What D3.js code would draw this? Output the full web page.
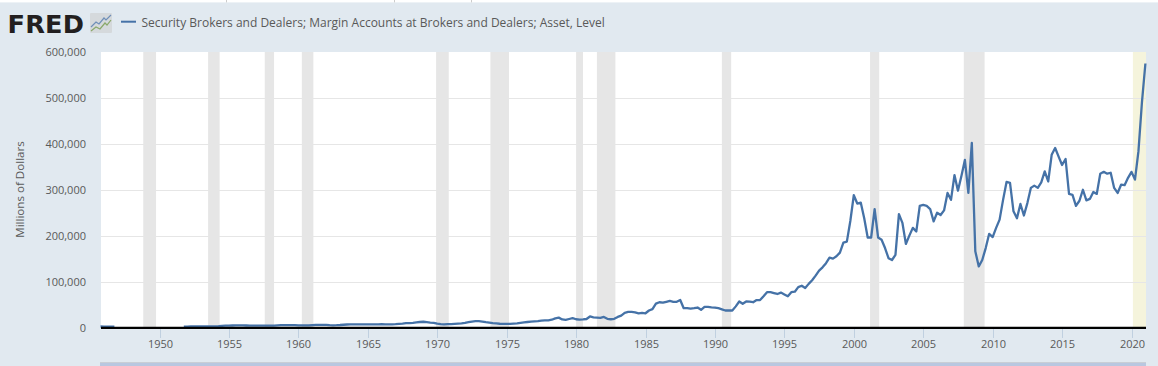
<!DOCTYPE html>
<html>
<head>
<meta charset="utf-8">
<script src="https://cdn.jsdelivr.net/npm/d3@7"></script>
<style>
  html, body { margin: 0; padding: 0; background: #e1e9f0; }
  svg { display: block; }
  text { font-family: "Open Sans", sans-serif; fill: #595959; }
</style>
</head>
<body>
<svg id="chart" width="1158" height="366"></svg>
<script>
// Quarterly values in millions of dollars, first quarter is 1945 Q4
const firstQuarter = 1945.75;
const marginAccounts = [
  2200,
  2100, 2000, 1900, 1800, // 1946
  null, null, null, null, // 1947
  null, null, null, null, // 1948
  null, null, null, null, // 1949
  null, null, null, null, // 1950
  null, null, null, 2000, // 1951
  2100, 2200, 2200, 2300,
  2300, 2300, 2200, 2300,
  2600, 2900, 3400, 3900,
  4200, 4400, 4500, 4600, // 1955
  4500, 4400, 4200, 4200,
  4100, 4200, 4000, 3900,
  4000, 4300, 4600, 5000,
  5200, 5200, 5100, 5000,
  4700, 4600, 4500, 4600, // 1960
  5000, 5500, 5600, 5900,
  5600, 5000, 4800, 5000,
  5400, 6000, 6500, 7000,
  7000, 6900, 6700, 6800,
  6800, 6700, 6700, 7000, // 1965
  7200, 7000, 6800, 6900,
  7200, 7800, 8500, 9500,
  9500, 10000, 11000, 12000,
  12500, 11500, 10500, 10000,
  8500, 7500, 7000, 7200, // 1970
  7500, 8000, 8500, 9000,
  10000, 11500, 13000, 13800,
  13800, 13000, 11500, 10500,
  9500, 8800, 8200, 8000,
  8000, 8000, 8500, 9000, // 1975
  10000, 11000, 12000, 13000,
  13500, 14000, 15000, 15500,
  15500, 17000, 20000, 21500,
  17500, 16500, 18500, 20500,
  18000, 17000, 17500, 18500, // 1980
  24000, 22000, 21500, 21000,
  23000, 19000, 18000, 19000,
  23000, 26000, 32000, 34000,
  34000, 33000, 31000, 32000,
  31000, 37000, 40000, 52000, // 1985
  55000, 54000, 56000, 58000,
  56000, 56000, 60000, 42000,
  42000, 41000, 42000, 43500,
  38600, 45000, 45000, 44000,
  43500, 42000, 39500, 37000, // 1990
  37000, 37000, 46000, 56700,
  51600, 56700, 56500, 55000,
  59700, 59700, 68000, 77000,
  77000, 75000, 73000, 76000,
  72000, 68000, 77000, 78000, // 1995
  88000, 91000, 86000, 95000,
  103000, 113000, 124000, 131000,
  140000, 152000, 150000, 155000,
  163000, 185000, 187000, 232000,
  288000, 270000, 272000, 238000, // 2000
  196000, 196000, 258000, 196000,
  191000, 173000, 151000, 147000,
  158000, 247000, 228000, 182000,
  200000, 217000, 209000, 265000,
  267000, 265000, 258000, 231000, // 2005
  250000, 245000, 255000, 293000,
  278000, 332000, 298000, 330000,
  365000, 293000, 402000, 166000,
  133000, 147000, 173000, 204000,
  197000, 217000, 235000, 278000, // 2010
  317000, 315000, 253000, 238000,
  269000, 244000, 271000, 304000,
  309000, 304000, 316000, 340000,
  318000, 376000, 391000, 372000,
  354000, 367000, 291000, 289000, // 2015
  265000, 276000, 300000, 277000,
  280000, 295000, 291000, 335000,
  339000, 335000, 337000, 304000,
  293000, 311000, 310000, 326000,
  339000, 322000, 384000, 490000, // 2020
  575000
];

const recessions = [
  [1948.83, 1949.75], [1953.5, 1954.33], [1957.58, 1958.25], [1960.25, 1961.08],
  [1969.92, 1970.83], [1973.83, 1975.17], [1980.0, 1980.5], [1981.5, 1982.83],
  [1990.5, 1991.17], [2001.17, 2001.83], [2007.92, 2009.42]
];
const recent = [2020.1, 2021.0];

const yearTicks = d3.range(1950, 2021, 5);
const valueTicks = [0, 100000, 200000, 300000, 400000, 500000, 600000];
const seriesName = "Security Brokers and Dealers; Margin Accounts at Brokers and Dealers; Asset, Level";
const yTitle = "Millions of Dollars";

const svg = d3.select("#chart");
const plot = { left: 101, right: 1146, top: 52, bottom: 327.5 };

const x = d3.scaleLinear().domain([firstQuarter, 2021]).range([100.5, 1145.4]);
const y = d3.scaleLinear().domain([0, 600000]).range([plot.bottom, plot.top]);

// Rounded copies so axis lines land on whole pixels
const xAxisScale = x.copy().interpolate(d3.interpolateRound);
const yAxisScale = y.copy().interpolate(d3.interpolateRound);

// Page chrome
svg.append("rect").attr("width", 1158).attr("height", 2.4).attr("fill", "#fff");
svg.selectAll(".topTick").data([226, 394, 471]).enter().append("rect")
  .attr("x", d => d).attr("width", 1).attr("height", 2.4).attr("fill", "#ccc");
svg.append("rect").attr("x", 100).attr("y", 362).attr("width", 1046).attr("height", 4).attr("fill", "#b9c7e0");
svg.append("rect").attr("x", 100).attr("y", 362).attr("width", 1046).attr("height", 1).attr("fill", "#c9ced6");

// Plot background
svg.append("rect")
  .attr("x", plot.left).attr("y", plot.top)
  .attr("width", plot.right - plot.left).attr("height", plot.bottom - plot.top)
  .attr("fill", "#fff");

svg.selectAll(".recession").data(recessions).enter().append("rect")
  .attr("class", "recession")
  .attr("x", d => x(d[0]))
  .attr("y", plot.top)
  .attr("width", d => x(d[1]) - x(d[0]))
  .attr("height", plot.bottom - plot.top)
  .attr("fill", "#e6e6e6");

svg.append("rect")
  .attr("x", x(recent[0]))
  .attr("y", plot.top)
  .attr("width", plot.right - x(recent[0]))
  .attr("height", plot.bottom - plot.top)
  .attr("fill", "#f5f4dc");

// Y axis with grid lines
const yAxis = svg.append("g")
  .attr("transform", `translate(${plot.left},0)`)
  .call(d3.axisLeft(yAxisScale)
    .tickValues(valueTicks)
    .tickFormat(d3.format(","))
    .tickSize(0)
    .tickPadding(15));
yAxis.select(".domain").remove();
yAxis.selectAll("text").style("font-size", "11px");
yAxis.selectAll(".tick").filter(d => d > 0 && d < 600000).append("line")
  .attr("x1", 0).attr("x2", plot.right - plot.left)
  .attr("stroke", "#e6e6e6");

// X axis
const xAxis = svg.append("g")
  .attr("transform", "translate(0,328)")
  .call(d3.axisBottom(xAxisScale)
    .tickValues(yearTicks)
    .tickFormat(d3.format("d"))
    .tickSize(10)
    .tickPadding(2));
xAxis.select(".domain").remove();
xAxis.selectAll("line").attr("stroke", "#c0d0e0");
xAxis.selectAll("text").style("font-size", "11px");

// Series
const line = d3.line()
  .defined(d => d !== null)
  .x((d, i) => x(firstQuarter + i * 0.25))
  .y(d => y(d));

svg.append("path")
  .datum(marginAccounts)
  .attr("fill", "none")
  .attr("stroke", "#4572a7")
  .attr("stroke-width", 2.3)
  .attr("stroke-linejoin", "round")
  .attr("d", line);

// Zero line sits on top of the series
svg.append("line")
  .attr("x1", plot.left).attr("x2", plot.right)
  .attr("y1", 327.9).attr("y2", 327.9)
  .attr("stroke", "#000")
  .attr("stroke-width", 2.3);

// Axis title
svg.append("text")
  .attr("transform", "translate(24,189.5) rotate(-90)")
  .attr("text-anchor", "middle")
  .style("font-size", "11.6px")
  .text(yTitle);

// Legend
svg.append("line")
  .attr("x1", 121).attr("x2", 136)
  .attr("y1", 21.7).attr("y2", 21.7)
  .attr("stroke", "#4572a7").attr("stroke-width", 2);
svg.append("text")
  .attr("x", 141.5).attr("y", 27)
  .style("font-size", "12px")
  .text(seriesName);

// FRED logo
svg.append("text")
  .attr("x", 7.5).attr("y", 32.7)
  .attr("letter-spacing", 0.2)
  .style("font-family", '"DejaVu Sans", sans-serif')
  .style("font-size", "25.6px")
  .style("font-weight", "bold")
  .style("fill", "#231f20")
  .text("FRED");

const logo = svg.append("g").attr("transform", "translate(90,13)");
logo.append("rect").attr("width", 22).attr("height", 20).attr("rx", 1).attr("fill", "#d5d9dc");
const logoLine = d3.line();
logo.append("path")
  .attr("d", logoLine([[1, 14], [6, 9], [9, 11], [14, 5], [16, 7], [21, 2]]))
  .attr("fill", "none").attr("stroke", "#6f8fb8").attr("stroke-width", 1.2);
logo.append("path")
  .attr("d", logoLine([[1, 18], [6, 14], [10, 16], [15, 10], [17, 12], [21, 7]]))
  .attr("fill", "none").attr("stroke", "#8aa86a").attr("stroke-width", 1.2);
</script>
</body>
</html>
